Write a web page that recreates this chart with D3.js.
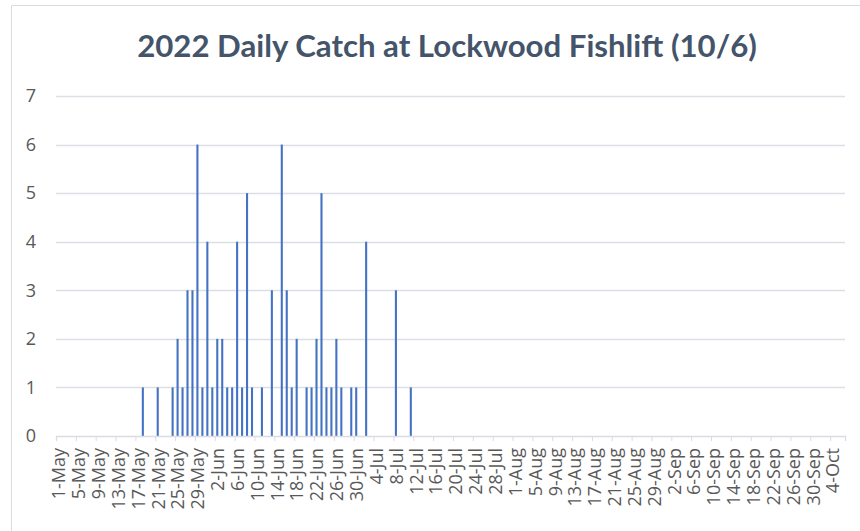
<!DOCTYPE html>
<html>
<head>
<meta charset="utf-8">
<script src="https://cdn.jsdelivr.net/npm/d3@7"></script>
<style>
  body { margin: 0; background: #fff; }
  svg { display: block; }
</style>
</head>
<body>
<script>
let width = 860,
    height = 531;

// days with a catch (every other day from 1-May to 6-Oct is zero)
let catchDates = [
    "2022-05-18", "2022-05-21", "2022-05-24", "2022-05-25", "2022-05-26",
    "2022-05-27", "2022-05-28", "2022-05-29", "2022-05-30", "2022-05-31",
    "2022-06-01", "2022-06-02", "2022-06-03", "2022-06-04", "2022-06-05",
    "2022-06-06", "2022-06-07", "2022-06-08", "2022-06-09", "2022-06-11",
    "2022-06-13", "2022-06-15", "2022-06-16", "2022-06-17", "2022-06-18",
    "2022-06-20", "2022-06-21", "2022-06-22", "2022-06-23", "2022-06-24",
    "2022-06-25", "2022-06-26", "2022-06-27", "2022-06-29", "2022-06-30",
    "2022-07-02", "2022-07-08", "2022-07-11"
];
let catchCounts = [
    1, 1, 1, 2, 1,
    3, 3, 6, 1, 4,
    1, 2, 2, 1, 1,
    4, 1, 5, 1, 1,
    3, 6, 3, 1, 2,
    1, 1, 2, 5, 1,
    1, 2, 1, 1, 1,
    4, 3, 1
];
let yTicks = [0, 1, 2, 3, 4, 5, 6, 7];
let title = "2022 Daily Catch at Lockwood Fishlift (10/6)";

let parse = d3.timeParse("%Y-%m-%d");
let start = new Date(2022, 4, 1),
    end = new Date(2022, 9, 7);
let days = d3.timeDay.range(start, end);
let counts = new Map(catchDates.map((d, i) => [+parse(d), catchCounts[i]]));
let data = days.map(d => ({date: d, value: counts.get(+d) || 0}));

let margin = {left: 56, right: 15, top: 96, bottom: 95};
let plotW = width - margin.left - margin.right,
    plotH = height - margin.top - margin.bottom;

let svg = d3.select('body').append('svg')
    .attr('width', width)
    .attr('height', height);

// outer chart frame (only its top and left edges are visible)
svg.append('path')
    .attr('d', `M11.5,${height} V5.5 H${width}`)
    .attr('fill', 'none')
    .attr('stroke', '#d9dce3');

svg.append('text')
    .attr('class', 'title')
    .attr('x', 447)
    .attr('y', 57)
    .attr('text-anchor', 'middle')
    .attr('fill', '#44546a')
    .style('font-family', 'Lato, "Open Sans", sans-serif')
    .style('font-weight', 'bold')
    .style('font-size', '30px')
    .text(title);

// shrink/grow title to the width it takes in the reference
let titleNode = svg.select('.title').node();
let tw = titleNode.getComputedTextLength();
svg.select('.title').style('font-size', (30 * 620 / tw) + 'px');

let g = svg.append('g').attr('transform', `translate(${margin.left},${margin.top})`);

let x = d3.scaleBand()
    .domain(days)
    .range([0, plotW])
    .paddingInner(0.58)
    .paddingOuter(0.29);
let xTime = d3.scaleTime()
    .domain([start, end])
    .range([0, plotW]);
let y = d3.scaleLinear()
    .domain([0, 7])
    .range([plotH, 0]);

// gridlines
g.append('g')
    .selectAll('line')
    .data(yTicks.filter(d => d > 0))
    .join('line')
    .attr('x1', 0)
    .attr('x2', plotW)
    .attr('y1', d => Math.round(y(d)) + 0.5)
    .attr('y2', d => Math.round(y(d)) + 0.5)
    .attr('stroke', '#dcdfe6')
    .attr('stroke-width', 1.4);

// y labels
let yAxis = g.append('g')
    .call(d3.axisLeft(y).tickValues(yTicks).tickSize(0).tickPadding(20).tickFormat(d3.format('d')));
yAxis.select('.domain').remove();
yAxis.selectAll('text')
    .attr('fill', '#595959')
    .style('font-family', '"Open Sans", sans-serif')
    .style('font-size', '18px');

// bars
g.append('g')
    .selectAll('rect')
    .data(data.filter(d => d.value > 0))
    .join('rect')
    .attr('x', d => x(d.date))
    .attr('y', d => y(d.value))
    .attr('width', x.bandwidth())
    .attr('height', d => y(0) - y(d.value))
    .attr('fill', '#4472c4');

// x axis, ticks every 4 days on slot edges, labels centered on the day
let labelDays = d3.timeDay.range(start, end, 4);
let half = x.step() / 2;
let xAxis = g.append('g')
    .attr('transform', `translate(0,${plotH})`)
    .call(d3.axisBottom(xTime)
        .tickValues(labelDays)
        .tickSizeOuter(0)
        .tickSize(5)
        .tickFormat(d3.timeFormat('%-d-%b')));
xAxis.select('.domain').attr('stroke', '#d9dce3').attr('stroke-width', 1.3);
xAxis.selectAll('.tick line').attr('stroke', '#d9dce3');
xAxis.selectAll('text')
    .attr('fill', '#595959')
    .style('font-family', '"Open Sans", sans-serif')
    .style('font-size', '18px')
    .attr('transform', 'rotate(-90)')
    .attr('x', -12)
    .attr('y', half)
    .attr('dy', '0.35em')
    .style('text-anchor', 'end');
</script>
</body>
</html>
